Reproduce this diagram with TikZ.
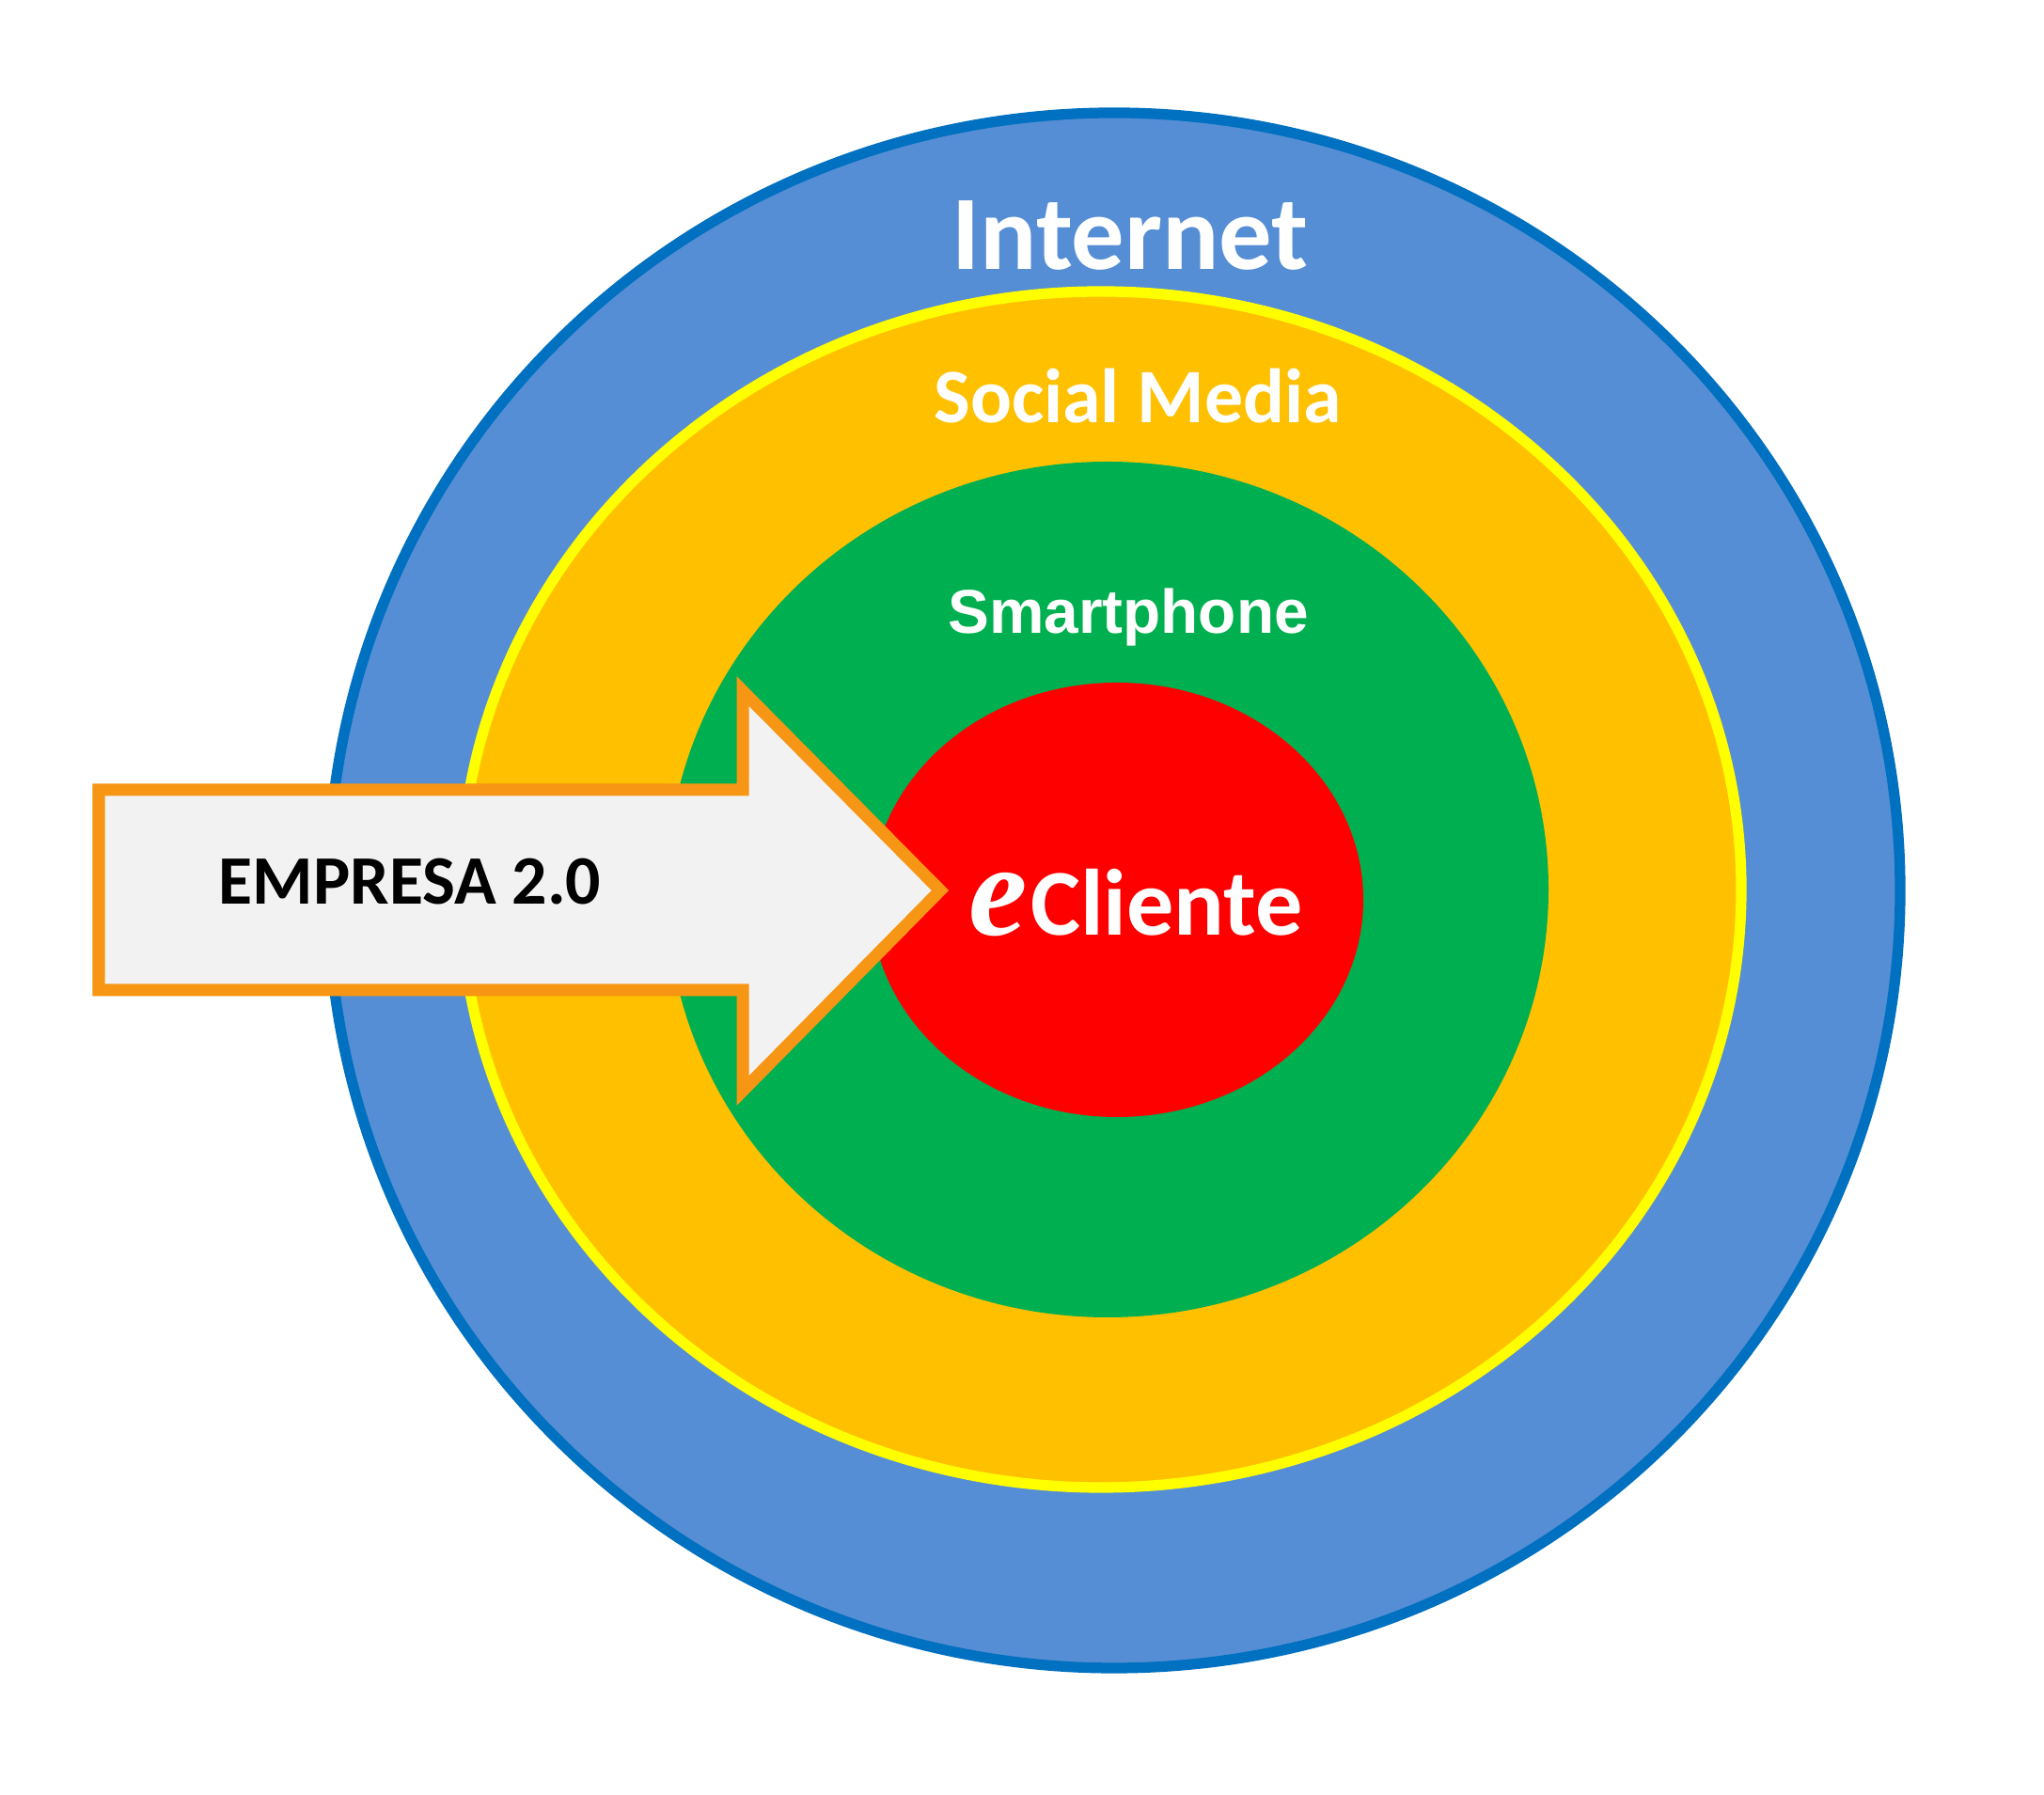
\documentclass[tikz,border=0pt]{standalone}
\usepackage{fontspec}
\setmainfont{Carlito}
\newfontfamily\arialfont{Liberation Sans}
\newfontfamily\efont{Liberation Serif}

\definecolor{azulanillo}{RGB}{85,142,213}
\definecolor{azulborde}{RGB}{0,112,192}
\definecolor{naranjaanillo}{RGB}{255,192,0}
\definecolor{amarilloborde}{RGB}{255,255,0}
\definecolor{verdeanillo}{RGB}{0,176,80}
\definecolor{rojoanillo}{RGB}{255,0,0}
\definecolor{flechaborde}{RGB}{247,150,20}
\definecolor{flechafondo}{RGB}{242,242,242}

\begin{document}
\begin{tikzpicture}[
		etiqueta/.style={text=white, anchor=base, inner sep=0pt}
	]
		\useasboundingbox (0,0) rectangle (21.74,19.09);
		\fill [white] (0,0) rectangle (21.74,19.09);

		% anillo Internet
		\draw [line width=3.2pt, draw=azulborde, fill=azulanillo] (11.85,9.62) ellipse [x radius=8.36, y radius=8.27];
		% anillo Social Media
		\draw [line width=3.2pt, draw=amarilloborde, fill=naranjaanillo] (11.71,9.63) ellipse [x radius=6.81, y radius=6.36];
		% anillo Smartphone
		\fill [verdeanillo] (11.78,9.63) ellipse [x radius=4.69, y radius=4.55];
		% centro eCliente
		\fill [rojoanillo] (11.88,9.52) ellipse [x radius=2.62, y radius=2.31];

		% flecha
		\draw [line width=3.7pt, draw=flechaborde, fill=flechafondo, miter limit=10]
			(1.05,8.56) -- (1.05,10.69) -- (7.90,10.69) -- (7.90,11.74)
			-- (10.00,9.62) -- (7.90,7.49) -- (7.90,8.56) -- cycle;

		% textos
		\node [etiqueta, font=\bfseries\fontsize{32}{32}\selectfont] (internet) at (12.02,16.22) {Internet};
		\node [etiqueta, font=\bfseries\fontsize{23.3}{24}\selectfont] (social) at (12.10,14.59) {Social Media};
		\node [etiqueta, font=\arialfont\bfseries\fontsize{18.7}{19}\selectfont] (smartphone) at (12.00,12.35) {Smartphone};
		\node [etiqueta, text=black, font=\bfseries\fontsize{21}{21}\selectfont] (empresa) at (4.36,9.47) {EMPRESA 2.0};
		\node [etiqueta, font=\bfseries\fontsize{28.5}{29}\selectfont] (cliente) at (12.08,9.14)
			{{\efont\bfseries\itshape\fontsize{40}{40}\selectfont e}\hspace{1pt}Cliente};
	\end{tikzpicture}
\end{document}
